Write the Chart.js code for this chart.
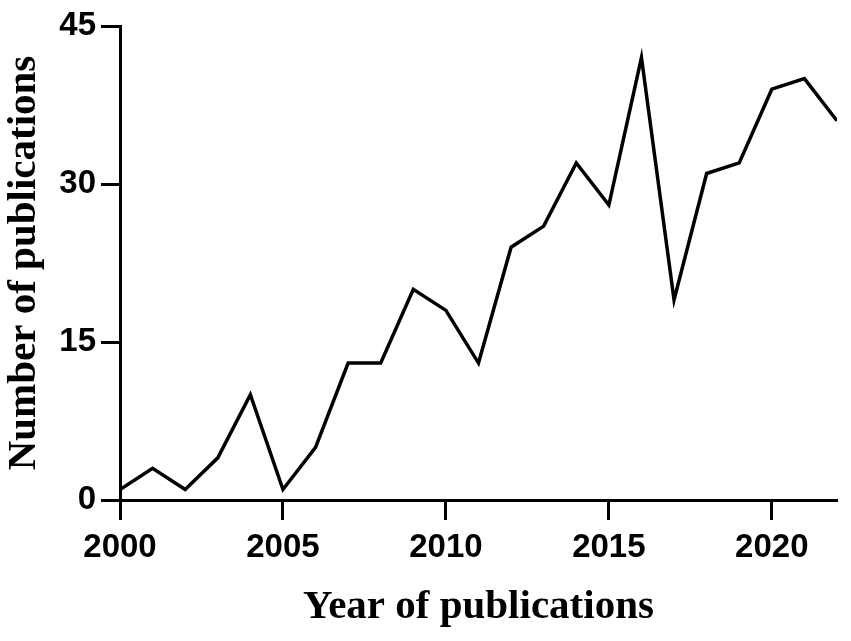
<!DOCTYPE html>
<html>
<head>
<meta charset="utf-8">
<script src="https://cdn.jsdelivr.net/npm/chart.js@4/dist/chart.umd.min.js"></script>
<style>
  html, body { margin: 0; padding: 0; background: #fff; }
  #wrap { width: 851px; height: 641px; }
</style>
</head>
<body>
<div id="wrap"><canvas id="pubChart"></canvas></div>
<script>
const years = [2000, 2001, 2002, 2003, 2004, 2005, 2006, 2007, 2008, 2009, 2010, 2011,
               2012, 2013, 2014, 2015, 2016, 2017, 2018, 2019, 2020, 2021, 2022];
const publications = [1, 3, 1, 4, 10, 1, 5, 13, 13, 20, 18, 13,
                      24, 26, 32, 28, 42, 19, 31, 32, 39, 40, 36];
const yTicks = [0, 15, 30, 45];
const xTicks = [2000, 2005, 2010, 2015, 2020];

const points = years.map((y, i) => ({ x: y, y: publications[i] }));

const tickFont = { family: "'Liberation Sans', Arial, sans-serif", size: 33, weight: "bold" };
const titleFont = { family: "'Liberation Serif', 'Times New Roman', serif", size: 41, weight: "bold" };

let ctx = document.getElementById("pubChart").getContext("2d");
let chart = new Chart(ctx, {
    type: "line",
    data: {
        datasets: [{
            data: points,
            borderColor: "#000",
            borderWidth: 3.5,
            pointRadius: 0,
            tension: 0,
            fill: false
        }]
    },
    options: {
        responsive: true,
        maintainAspectRatio: false,
        animation: false,
        layout: { padding: { left: 0, right: 14, top: 26, bottom: 8 } },
        plugins: { legend: { display: false }, tooltip: { enabled: false } },
        scales: {
            x: {
                type: "linear",
                min: 2000,
                max: 2022,
                afterBuildTicks: axis => { axis.ticks = xTicks.map(v => ({ value: v })); },
                afterFit: axis => { axis.height = 133; },
                border: { display: true, color: "#000", width: 3 },
                grid: { drawOnChartArea: false, drawTicks: true, tickLength: 20, tickColor: "#000", tickWidth: 3 },
                ticks: { color: "#000", font: tickFont, padding: 8, maxRotation: 0,
                         callback: v => String(v) },
                title: { display: true, text: "Year of publications", color: "#000",
                         font: titleFont, padding: { top: 0, bottom: 1 } }
            },
            y: {
                min: 0,
                max: 45,
                afterBuildTicks: axis => { axis.ticks = yTicks.map(v => ({ value: v })); },
                afterFit: axis => { axis.width = 120; },
                border: { display: true, color: "#000", width: 3 },
                grid: { drawOnChartArea: false, drawTicks: true, tickLength: 19, tickColor: "#000", tickWidth: 3 },
                ticks: { color: "#000", font: tickFont, padding: 5 },
                title: { display: true, text: "Number of publications", color: "#000",
                         font: titleFont, padding: { top: 0, bottom: 0 } }
            }
        }
    }
});
</script>
</body>
</html>
